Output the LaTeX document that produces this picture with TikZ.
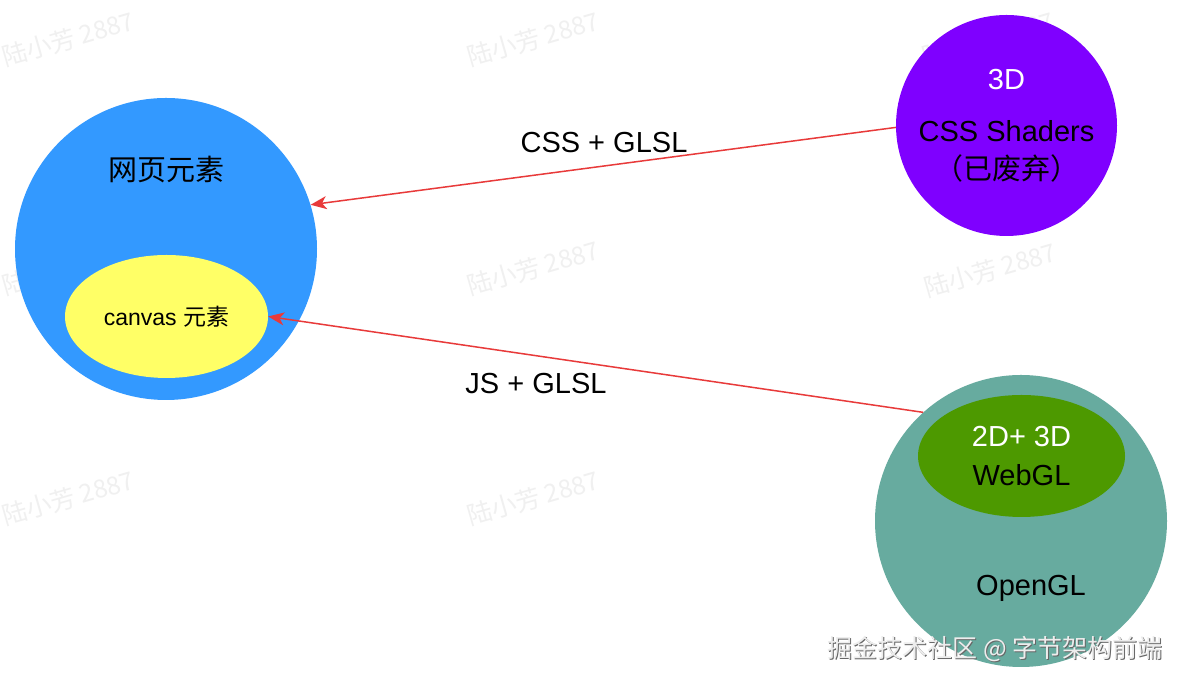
\documentclass[tikz,border=0pt]{standalone}
\usepackage{fontspec}
\setmainfont{Liberation Sans}
\newfontfamily\cjk{Noto Sans CJK SC}
\usetikzlibrary{arrows.meta,shapes.geometric}
\definecolor{pageblue}{RGB}{51,153,255}
\definecolor{canvasyellow}{RGB}{255,255,102}
\definecolor{shaderpurple}{RGB}{127,0,255}
\definecolor{oglteal}{RGB}{103,171,159}
\definecolor{webglgreen}{RGB}{77,153,0}
\definecolor{linkred}{RGB}{232,58,58}
\tikzset{
  blob/.style={circle, draw=none, inner sep=0pt, align=center},
  spot/.style={ellipse, draw=none, inner sep=0pt, align=center},
  lab/.style={font=\fontsize{29}{38}\selectfont},
  smalllab/.style={font=\fontsize{23}{28}\selectfont},
  flow/.style={draw=linkred, line width=1.5pt,
               -{Stealth[length=16pt,width=13pt,inset=4.5pt]}},
  wmark/.style={font=\cjk\fontsize{25}{28}\selectfont, text=black!6, rotate=16},
  sitemark/.style={font=\cjk\fontsize{25}{30}\selectfont},
}
\begin{document}
\begin{tikzpicture}[x=1pt,y=1pt]
  \path[use as bounding box] (0,0) rectangle (1184,684);
  \fill[white] (0,0) rectangle (1184,684);

  % faint watermark grid (the one under OpenGL is hidden anyway)
  \foreach \wx/\wy in {68/645, 533/645, 988/645, 68/416, 533/416, 990/414,
                       68/186, 533/186}
    \node[wmark] (wm-\wx-\wy) at (\wx,\wy) {陆小芳 2887};

  \node[blob, fill=pageblue, minimum size=302pt] (web) at (166,435) {};
  \node[lab, font=\cjk\fontsize{29}{38}\selectfont] (webtitle) at (166,514) {网页元素};
  \node[spot, fill=canvasyellow, minimum width=203pt, minimum height=123pt, smalllab]
    (canvas) at (166.5,367.5) {canvas {\cjk 元素}};

  \node[blob, fill=shaderpurple, minimum size=221pt, lab] (shaders) at (1006.5,558.5)
    {\textcolor{white}{3D}\\[14pt]
     CSS Shaders\\
     {\cjk （已废弃）}};

  \node[blob, fill=oglteal, minimum size=292pt] (opengl) at (1021,163) {};
  \node[spot, fill=webglgreen, minimum width=207pt, minimum height=122pt,
        font=\fontsize{29}{39}\selectfont] (webgl) at (1021.5,228)
    {\textcolor{white}{2D+ 3D}\\WebGL};
  \node[lab] (opengltitle) at (1031,96) {OpenGL};

  \draw[flow] (shaders.181) -- (web.17);
  \node[lab] (csslab) at (604,541) {CSS + GLSL};
  \draw[flow] (opengl.132) -- (canvas.east);
  \node[lab] (jslab) at (536,300) {JS + GLSL};

  \node[sitemark, text=black!60] (siteshadow) at (996.2,33.8)
    {掘金技术社区 @ 字节架构前端};
  \node[sitemark, text=white!93!black] (site) at (995,35)
    {掘金技术社区 @ 字节架构前端};
\end{tikzpicture}
\end{document}
